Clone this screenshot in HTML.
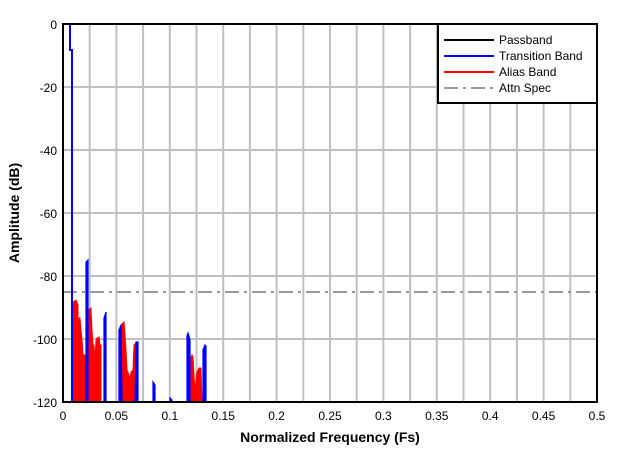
<!DOCTYPE html>
<html><head><meta charset="utf-8"><style>
body{margin:0;background:#fff;}
text{font-family:"Liberation Sans",sans-serif;}
</style></head><body>
<svg width="621" height="454" viewBox="0 0 621 454" xmlns="http://www.w3.org/2000/svg">
<rect width="621" height="454" fill="#fff"/>
<g stroke="#c0c0c0" stroke-width="2">
<line x1="89.7" y1="24" x2="89.7" y2="402"/><line x1="116.4" y1="24" x2="116.4" y2="402"/>
<line x1="143.1" y1="24" x2="143.1" y2="402"/><line x1="169.8" y1="24" x2="169.8" y2="402"/>
<line x1="196.5" y1="24" x2="196.5" y2="402"/><line x1="223.2" y1="24" x2="223.2" y2="402"/>
<line x1="249.9" y1="24" x2="249.9" y2="402"/><line x1="276.6" y1="24" x2="276.6" y2="402"/>
<line x1="303.3" y1="24" x2="303.3" y2="402"/><line x1="330" y1="24" x2="330" y2="402"/>
<line x1="356.7" y1="24" x2="356.7" y2="402"/><line x1="383.4" y1="24" x2="383.4" y2="402"/>
<line x1="410.1" y1="24" x2="410.1" y2="402"/><line x1="436.8" y1="24" x2="436.8" y2="402"/>
<line x1="463.5" y1="24" x2="463.5" y2="402"/><line x1="490.2" y1="24" x2="490.2" y2="402"/>
<line x1="516.9" y1="24" x2="516.9" y2="402"/><line x1="543.6" y1="24" x2="543.6" y2="402"/>
<line x1="570.3" y1="24" x2="570.3" y2="402"/>
<line x1="63" y1="87" x2="597" y2="87"/><line x1="63" y1="150" x2="597" y2="150"/>
<line x1="63" y1="213" x2="597" y2="213"/><line x1="63" y1="276" x2="597" y2="276"/>
<line x1="63" y1="339" x2="597" y2="339"/>
</g>
<line x1="63" y1="292" x2="597" y2="292" stroke="#999" stroke-width="2" stroke-dasharray="14,5,3,5"/>
<g fill="#f00" stroke="#f00" stroke-width="1">
<polygon points="72,402 72,303 76,300 78,305 78,318 80,318 81,330 82,340 83,355 85,355 85,402"/>
<polygon points="88,402 88,310 91,308 92,330 93,345 94,345 95,360 96,340 97,338 99,337 100,345 101,345 101,402"/>
<polygon points="121,402 121,325 124,322 125,335 126,350 127,370 129,375 130,380 131,372 133,370 134,345 136,343 137,402"/>
<polygon points="189,402 190,360 192,355 193,357 194,375 195,390 196,380 197,372 199,368 201,368 202,402"/>
</g>
<g fill="#00f" stroke="#00f" stroke-width="1.2">
<polyline points="70,24 70,50 72,50 72,402" fill="none" stroke-width="2"/>
<polygon points="86,402 86,262 88,260 88,402"/>
<polygon points="104,402 104,318 106,312 106,402"/>
<polygon points="119,402 119,330 121,325 122,402"/>
<polygon points="135,402 136,342 138,342 138,402"/>
<polygon points="153,402 153,382 155,385 155,402"/>
<polygon points="170,402 170,398 172,400 172,402"/>
<polygon points="187,402 187,336 188,333 190,340 190,402"/>
<polygon points="203,402 203,350 205,345 206,346 206,402"/>
</g>
<rect x="63" y="24" width="534" height="378" fill="none" stroke="#000" stroke-width="2"/>
<g font-size="12" text-anchor="end">
<text x="57" y="29">0</text><text x="57" y="92">-20</text><text x="57" y="155">-40</text>
<text x="57" y="218">-60</text><text x="57" y="281">-80</text><text x="57" y="344">-100</text><text x="57" y="407">-120</text>
</g>
<g font-size="12" text-anchor="middle">
<text x="63" y="420">0</text><text x="116.4" y="420">0.05</text>
<text x="169.8" y="420">0.1</text>
<text x="223.2" y="420">0.15</text><text x="276.6" y="420">0.2</text><text x="330" y="420">0.25</text>
<text x="383.4" y="420">0.3</text><text x="436.8" y="420">0.35</text><text x="490.2" y="420">0.4</text>
<text x="543.6" y="420">0.45</text><text x="597" y="420">0.5</text>
</g>
<text x="330" y="442" font-size="14" font-weight="bold" text-anchor="middle">Normalized Frequency (Fs)</text>
<text x="19" y="213" font-size="14" font-weight="bold" text-anchor="middle" transform="rotate(-90 19 213)">Amplitude (dB)</text>
<rect x="438" y="24" width="159" height="79" fill="#fff" stroke="#000" stroke-width="2"/>
<g stroke-width="2">
<line x1="444" y1="40" x2="494" y2="40" stroke="#000"/>
<line x1="444" y1="56" x2="494" y2="56" stroke="#00f"/>
<line x1="444" y1="72" x2="494" y2="72" stroke="#f00"/>
<line x1="444" y1="88" x2="494" y2="88" stroke="#999" stroke-dasharray="14,5,3,5"/>
</g>
<g font-size="12">
<text x="499" y="44">Passband</text><text x="499" y="60">Transition Band</text>
<text x="499" y="76">Alias Band</text><text x="499" y="92">Attn Spec</text>
</g>
</svg>
</body></html>
